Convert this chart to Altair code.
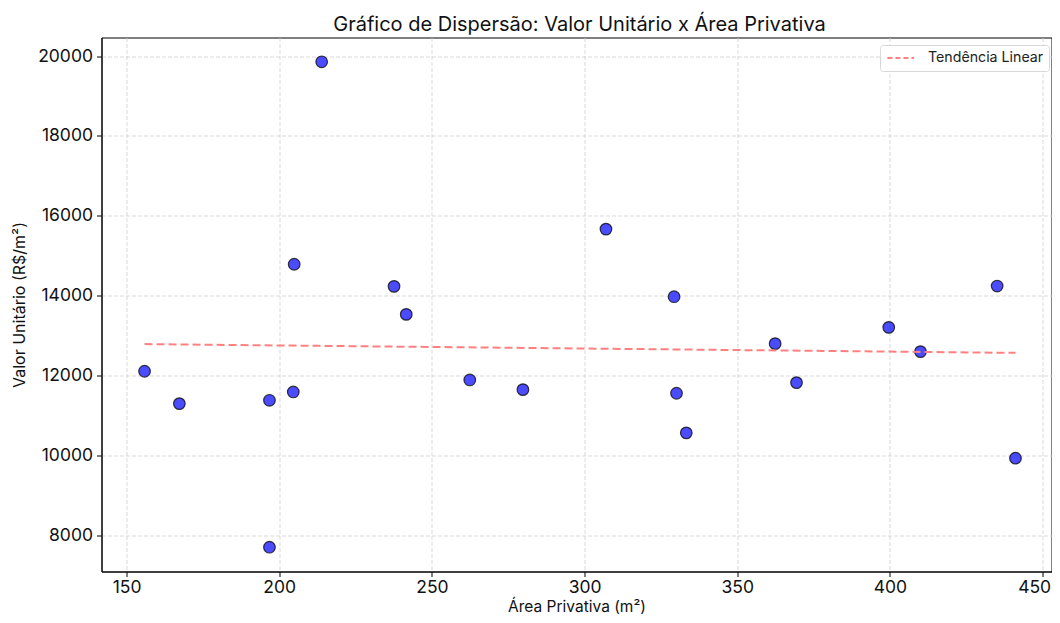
import altair as alt
import pandas as pd

area = [155.9, 167.3, 196.8, 196.8, 204.6, 204.9, 213.9, 237.6, 241.6, 262.4, 279.8,
        307.0, 329.3, 330.1, 333.3, 362.4, 369.4, 399.6, 410.0, 435.1, 441.1]
valor = [12109, 11299, 11382, 7704, 11591, 14787, 19856, 14234, 13532, 11891, 11649,
         15667, 13975, 11558, 10567, 12800, 11825, 13208, 12600, 14242, 9933]
x_ticks = [150, 200, 250, 300, 350, 400, 450]
y_ticks = [8000, 10000, 12000, 14000, 16000, 18000, 20000]

df = pd.DataFrame({"area": area, "valor": valor})

FONT = "Inter"

xscale = alt.Scale(domain=[141.8, 452.9], nice=False, zero=False)
yscale = alt.Scale(domain=[7096, 20464], nice=False, zero=False)

xenc = alt.X("area:Q", scale=xscale, title="Área Privativa (m²)",
             axis=alt.Axis(values=x_ticks, format="d", labelFlush=12,
                           labelFlushOffset=8))
yenc = alt.Y("valor:Q", scale=yscale, title="Valor Unitário (R$/m²)",
             axis=alt.Axis(values=y_ticks, format="d"))

points = alt.Chart(df).mark_point(
    filled=True, shape="circle", size=135, fill="blue", fillOpacity=0.7,
    stroke="black", strokeOpacity=0.75, strokeWidth=1.2
).encode(x=xenc, y=yenc)

trend = alt.Chart(df).transform_regression(
    "area", "valor", method="linear"
).transform_calculate(
    serie="'Tendência Linear'"
).mark_line(strokeDash=[8, 4], strokeWidth=2).encode(
    x=alt.X("area:Q", scale=xscale),
    y=alt.Y("valor:Q", scale=yscale),
    color=alt.Color("serie:N", scale=alt.Scale(range=["#ff8080"]),
                    legend=alt.Legend(title=None, orient="none",
                                      legendX=778.5, legendY=7.5,
                                      symbolType="M-0.8,0H3", symbolDash=[5, 3],
                                      symbolStrokeWidth=2, symbolSize=196,
                                      labelFontSize=14.2, labelFont=FONT,
                                      labelColor="#222", labelOffset=27,
                                      padding=5, strokeColor="#d8d8d8",
                                      cornerRadius=3, fillColor="white")),
)

chart = alt.layer(points, trend).properties(
    width=950, height=534,
    title=alt.Title("Gráfico de Dispersão: Valor Unitário x Área Privativa",
                    fontSize=20, font=FONT, fontWeight="normal", color="#111",
                    anchor="middle", offset=3, dx=3),
    autosize=alt.AutoSizeParams(type="none"),
    padding={"left": 93.5, "top": 29.5, "right": 0.5, "bottom": 43.5},
).configure_view(
    stroke="black", strokeWidth=1
).configure_axis(
    labelFont=FONT, titleFont=FONT, labelFontSize=17.5, titleFontSize=16,
    labelColor="#111", titleColor="#111", titleFontWeight="normal",
    domainColor="black", tickColor="black", tickSize=5, tickWidth=1,
    grid=True, gridColor="#cfcfcf", gridDash=[4, 2], gridWidth=0.8,
    labelPadding=4,
).configure_axisX(
    titlePadding=3, labelPadding=2, titleFontSize=15.5,
).configure_axisY(
    titlePadding=10,
)

chart.save("out.html", embed_options={"renderer": "svg", "actions": False})
